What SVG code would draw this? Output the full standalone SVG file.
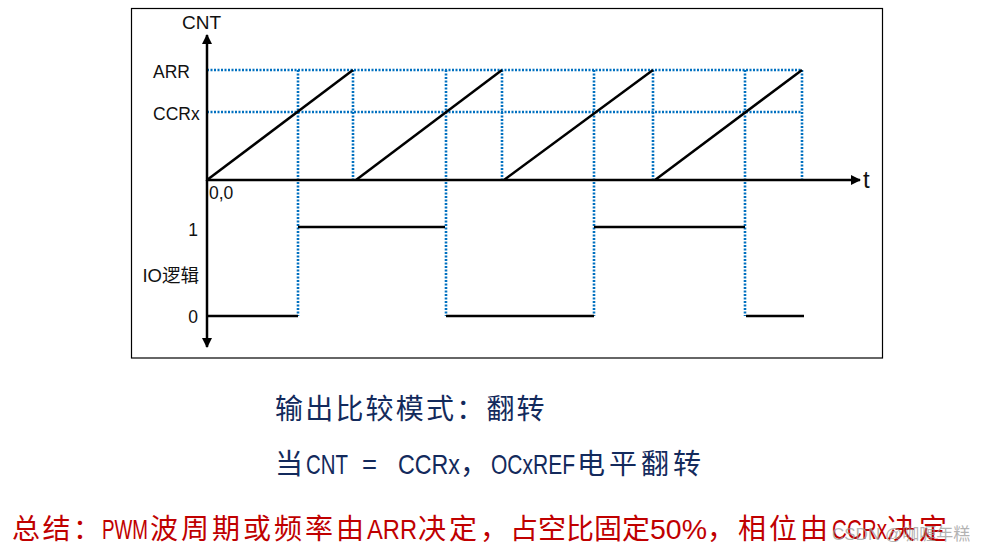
<svg xmlns="http://www.w3.org/2000/svg" width="984" height="556" viewBox="0 0 984 556">
<style>
.axis{stroke:#000;stroke-width:2.5;fill:none}
.wave{stroke:#000;stroke-width:2.5;fill:none;stroke-linecap:butt}
.dot{stroke:#0070C0;stroke-width:2.6;stroke-dasharray:2 1.5;fill:none}
.lbl{font-family:"Liberation Sans","Noto Sans CJK SC",sans-serif;font-size:17.5px;fill:#111}
.cn{font-family:"Noto Sans CJK SC","Liberation Sans",sans-serif;font-size:28px;fill:#132a5c}
.red{font-family:"Noto Sans CJK SC","Liberation Sans",sans-serif;font-size:28px;fill:#c00000}
.lat{font-family:"Liberation Sans",sans-serif}
</style>
<defs>
<marker id="arr" viewBox="0 0 10 10" refX="9" refY="5" markerWidth="4" markerHeight="4" orient="auto" markerUnits="strokeWidth">
<path d="M0,0 L10,5 L0,10 z" fill="#000"/>
</marker>
</defs>
<rect id="frame" x="131.5" y="8.5" width="751" height="349.5" fill="#fff" stroke="#000" stroke-width="1.2"/>
<g id="grid">
<line class="dot" x1="207" y1="70" x2="802" y2="70"/>
<line class="dot" x1="207" y1="112" x2="802" y2="112"/>
<line class="dot" x1="298" y1="70" x2="298" y2="316"/>
<line class="dot" x1="446" y1="70" x2="446" y2="316"/>
<line class="dot" x1="594" y1="70" x2="594" y2="316"/>
<line class="dot" x1="745" y1="70" x2="745" y2="316"/>
<line class="dot" x1="353" y1="70" x2="353" y2="180"/>
<line class="dot" x1="502" y1="70" x2="502" y2="180"/>
<line class="dot" x1="653" y1="70" x2="653" y2="180"/>
<line class="dot" x1="802" y1="70" x2="802" y2="180"/>
</g>
<g id="axes">
<line class="axis" x1="207" y1="181" x2="207" y2="35" marker-end="url(#arr)"/>
<line class="axis" x1="207" y1="180" x2="207" y2="347" marker-end="url(#arr)"/>
<line class="axis" x1="206" y1="180" x2="860" y2="180" marker-end="url(#arr)"/>
</g>
<g id="counter">
<polyline class="wave" points="207,180 353,70"/>
<polyline class="wave" points="356,180 502,70"/>
<polyline class="wave" points="504,180 653,70"/>
<polyline class="wave" points="655,180 802,70"/>
</g>
<g id="io">
<line class="wave" x1="207" y1="316" x2="298" y2="316"/>
<line class="wave" x1="298" y1="227" x2="445" y2="227"/>
<line class="wave" x1="446" y1="316" x2="594" y2="316"/>
<line class="wave" x1="594" y1="227" x2="745" y2="227"/>
<line class="wave" x1="746" y1="316" x2="804" y2="316"/>
</g>
<g id="labels">
<text class="lbl" x="182" y="29" style="font-size:19px">CNT</text>
<text class="lbl" x="153" y="77.5">ARR</text>
<text class="lbl" x="153" y="119.5">CCRx</text>
<text class="lbl" x="209" y="198.5">0,0</text>
<text class="lbl" x="863" y="188" style="font-size:24px">t</text>
<text class="lbl" x="198" y="235.5" text-anchor="end">1</text>
<text class="lbl" x="199" y="281.5" text-anchor="end" style="font-size:18.5px">IO逻辑</text>
<text class="lbl" x="198" y="323" text-anchor="end">0</text>
</g>
<g id="caption">
<text class="cn" x="275" y="419" letter-spacing="2.2">输出比较模式：翻转</text>
<text class="cn" y="474"><tspan x="275">当</tspan><tspan class="lat" x="306" textLength="42" lengthAdjust="spacingAndGlyphs">CNT</tspan><tspan class="lat" x="362" textLength="15" lengthAdjust="spacingAndGlyphs">=</tspan><tspan class="lat" x="398" textLength="62" lengthAdjust="spacingAndGlyphs">CCRx</tspan><tspan x="460">，</tspan><tspan class="lat" x="491" textLength="84" lengthAdjust="spacingAndGlyphs">OCxREF</tspan><tspan x="577" letter-spacing="4">电平翻转</tspan></text>
</g>
<g id="summary">
<text class="red" y="539"><tspan x="12" letter-spacing="2.5">总结：</tspan><tspan class="lat" x="102" textLength="46" lengthAdjust="spacingAndGlyphs">PWM</tspan><tspan x="150" letter-spacing="3">波周期或频率由</tspan><tspan class="lat" x="367" textLength="50" lengthAdjust="spacingAndGlyphs">ARR</tspan><tspan x="418" letter-spacing="3">决定，</tspan><tspan x="510">占空比固定</tspan><tspan class="lat" x="650" textLength="57" lengthAdjust="spacingAndGlyphs">50%</tspan><tspan x="707" letter-spacing="3">，相位由</tspan><tspan class="lat" x="832" textLength="55" lengthAdjust="spacingAndGlyphs">CCRx</tspan><tspan x="887" letter-spacing="4">决定</tspan></text>
<text x="832" y="540" style="font-family:'Liberation Sans','Noto Sans CJK SC',sans-serif;font-size:17px;fill:#9a9a9a;fill-opacity:0.75">CSDN @咖喱年糕</text>
</g>
</svg>
